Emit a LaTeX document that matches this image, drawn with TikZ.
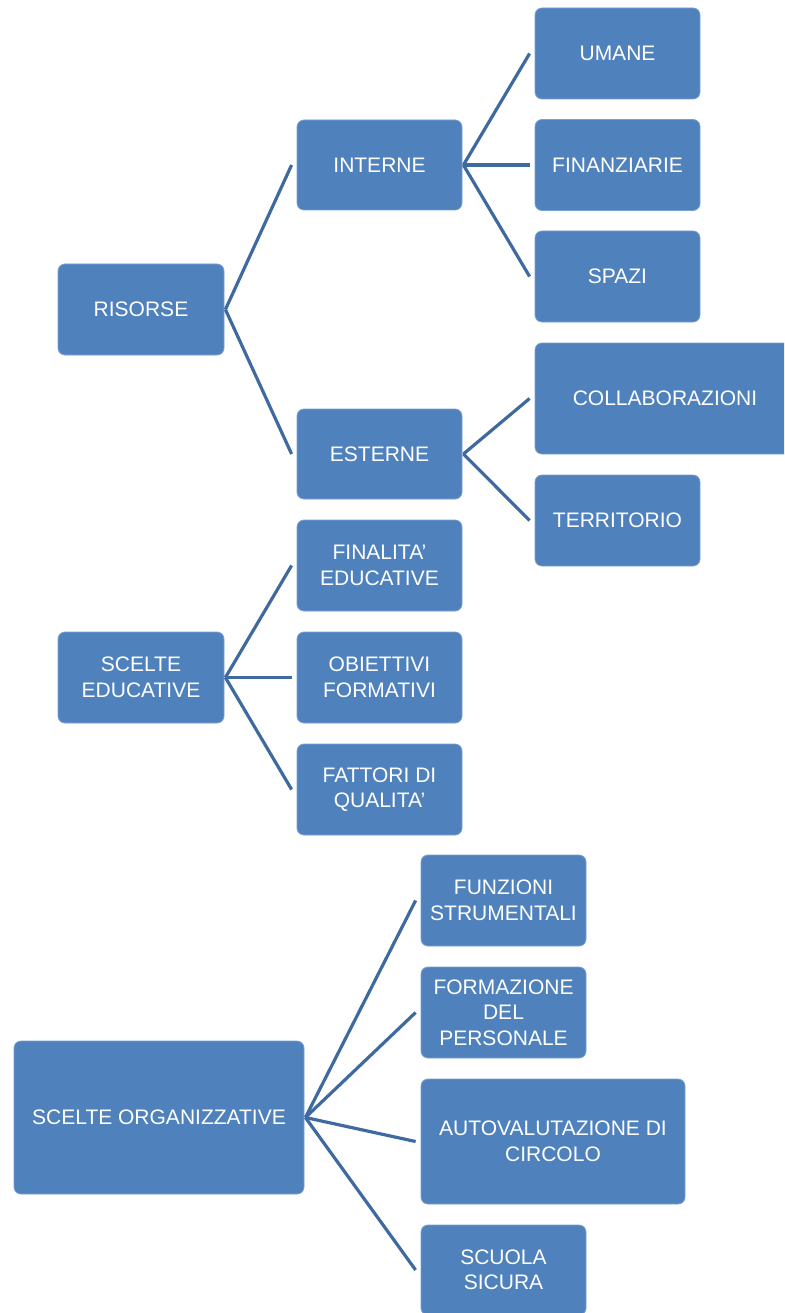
\documentclass[tikz,border=0pt]{standalone}
\usepackage{fontspec}
\setmainfont{Liberation Sans}
\definecolor{boxblue}{HTML}{4F81BD}
\definecolor{boxedge}{HTML}{7A9FCF}
\definecolor{linkblue}{HTML}{3E6AA0}
\tikzset{
  box/.style={draw=boxedge, line width=0.8pt, fill=boxblue, rounded corners=7pt,
    text=white, font=\fontsize{21}{25.5}\selectfont, align=center, inner sep=0pt,
    anchor=center},
  link/.style={draw=linkblue, line width=3.2pt},
}
\begin{document}
\begin{tikzpicture}[x=1pt,y=-1pt]
\useasboundingbox (0,0) rectangle (784,1313);
\clip (0,0) rectangle (784,1313);
% level 1
\node[box, minimum width=166pt, minimum height=91pt] (ris) at (141,309.5) {RISORSE};
\node[box, minimum width=166pt, minimum height=91pt] (edu) at (141,677.5) {SCELTE\\EDUCATIVE};
\node[box, minimum width=290pt, minimum height=153pt] (org) at (159,1117.5) {SCELTE ORGANIZZATIVE};
% level 2
\node[box, minimum width=165pt, minimum height=90pt] (int) at (379.5,165) {INTERNE};
\node[box, minimum width=165pt, minimum height=90pt] (est) at (379.5,454) {ESTERNE};
\node[box, minimum width=165pt, minimum height=91pt] (fin) at (379.5,565.5) {FINALITA’\\EDUCATIVE};
\node[box, minimum width=165pt, minimum height=91pt] (obi) at (379.5,677.5) {OBIETTIVI\\FORMATIVI};
\node[box, minimum width=165pt, minimum height=91pt] (fat) at (379.5,789.5) {FATTORI DI\\QUALITA’};
% level 3
\node[box, minimum width=165pt, minimum height=91pt] (uma) at (617.5,53.5) {UMANE};
\node[box, minimum width=165pt, minimum height=91pt] (fnz) at (617.5,165) {FINANZIARIE};
\node[box, minimum width=165pt, minimum height=91pt] (spa) at (617.5,276.5) {SPAZI};
\node[box, minimum width=260pt, minimum height=111pt] (col) at (665,398.5) {COLLABORAZIONI};
\node[box, minimum width=165pt, minimum height=91pt] (ter) at (617.5,520.5) {TERRITORIO};
\node[box, minimum width=165pt, minimum height=91pt] (fun) at (503.5,900.5) {FUNZIONI\\STRUMENTALI};
\node[box, minimum width=165pt, minimum height=91pt] (for) at (503.5,1012.5) {FORMAZIONE\\DEL\\PERSONALE};
\node[box, minimum width=264pt, minimum height=125pt] (aut) at (553,1141.5) {AUTOVALUTAZIONE DI\\CIRCOLO};
\node[box, minimum width=165pt, minimum height=90pt] (scu) at (503.5,1270) {SCUOLA\\SICURA};
% connectors
\draw[link] ([xshift=1pt]ris.east) -- ([xshift=-5pt]int.west);
\draw[link] ([xshift=1pt]ris.east) -- ([xshift=-5pt]est.west);
\draw[link] ([xshift=1pt]int.east) -- ([xshift=-5pt]uma.west);
\draw[link] ([xshift=1pt]int.east) -- ([xshift=-5pt]fnz.west);
\draw[link] ([xshift=1pt]int.east) -- ([xshift=-5pt]spa.west);
\draw[link] ([xshift=1pt]est.east) -- ([xshift=-5pt]col.west);
\draw[link] ([xshift=1pt]est.east) -- ([xshift=-5pt]ter.west);
\draw[link] ([xshift=1pt]edu.east) -- ([xshift=-5pt]fin.west);
\draw[link] ([xshift=1pt]edu.east) -- ([xshift=-5pt]obi.west);
\draw[link] ([xshift=1pt]edu.east) -- ([xshift=-5pt]fat.west);
\draw[link] ([xshift=1pt]org.east) -- ([xshift=-5pt]fun.west);
\draw[link] ([xshift=1pt]org.east) -- ([xshift=-5pt]for.west);
\draw[link] ([xshift=1pt]org.east) -- ([xshift=-5pt]aut.west);
\draw[link] ([xshift=1pt]org.east) -- ([xshift=-5pt]scu.west);
\end{tikzpicture}
\end{document}
